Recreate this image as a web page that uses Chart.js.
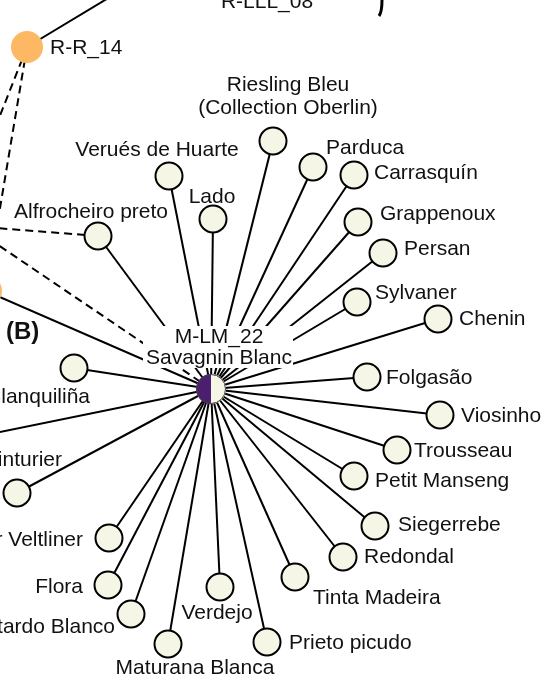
<!DOCTYPE html>
<html>
<head>
<meta charset="utf-8">
<style>
  html, body { margin: 0; padding: 0; background: #fff; }
  #wrap { width: 552px; height: 677px; position: relative; }
</style>
</head>
<body>
<div id="wrap"><canvas id="myChart"></canvas></div>
<script src="https://cdn.jsdelivr.net/npm/chart.js@4/dist/chart.umd.min.js"></script>
<script>
// DATA
const nodeNames = [
    "Savagnin Blanc", "R-R_14", "parent-left",
    "Riesling Bleu\n(Collection Oberlin)", "Verués de Huarte", "Lado", "Alfrocheiro preto",
    "Parduca", "Carrasquín", "Grappenoux", "Persan", "Sylvaner", "Chenin",
    "Folgasão", "Viosinho", "Trousseau", "Petit Manseng", "Siegerrebe", "Redondal",
    "Tinta Madeira", "Prieto picudo", "Maturana Blanca", "Verdejo", "Bastardo Blanco",
    "Flora", "Grüner Veltliner", "Teinturier", "Blanquiliña",
    "off-1", "off-2", "off-3", "off-4", "off-5",
];
const nodeCodes = ["M-LM_22", "R-R_14", ""];
const nodeType = [
    "hub", "parent", "parent",
    "cultivar", "cultivar", "cultivar", "cultivar", "cultivar", "cultivar", "cultivar",
    "cultivar", "cultivar", "cultivar", "cultivar", "cultivar", "cultivar", "cultivar",
    "cultivar", "cultivar", "cultivar", "cultivar", "cultivar", "cultivar", "cultivar",
    "cultivar", "cultivar", "cultivar", "cultivar",
    "off", "off", "off", "off", "off",
];
// layout coordinates of the network (frame units)
const nodeX = [211, 27, -14, 273, 169, 213, 98, 313, 354, 358, 383, 357, 438, 367, 440, 397,
    354, 375, 343, 295, 267, 168, 220, 131, 108, 109, 17, 74, 115, -10, -4, -30, -30];
const nodeY = [389, 47, 291, 141, 176, 219, 236, 167, 175, 222, 253, 302, 319, 377, 415, 450,
    476, 526, 557, 577, 642, 644, 587, 614, 585, 538, 493, 368, -6, 141, 232, 226, 438];

// edges: from, to, dashed
const edgeFrom = [0, 0, 0, 0, 0, 0, 0, 0, 0, 0, 0, 0, 0, 0, 0, 0, 0, 0, 0, 0, 0, 0, 0, 0, 0, 0,
    1, 1, 1, 6, 0, 0];
const edgeTo = [2, 3, 4, 5, 6, 7, 8, 9, 10, 11, 12, 13, 14, 15, 16, 17, 18, 19, 20, 21, 22, 23,
    24, 25, 26, 27, 28, 29, 30, 31, 31, 32];
const edgeDashed = [0, 0, 0, 0, 0, 0, 0, 0, 0, 0, 0, 0, 0, 0, 0, 0, 0, 0, 0, 0, 0, 0, 0, 0, 0, 0,
    0, 1, 1, 1, 1, 0];

// LABEL LAYOUT: [x, y, align]
const labelAt = [
    [219, 337, "center"], [50, 48, "left"], null,
    [288, 85, "center"], [157, 150, "center"], [212, 197, "center"], [91, 212, "center"],
    [326, 148, "left"], [374, 173, "left"], [380, 214, "left"], [404, 249, "left"],
    [375, 293, "left"], [459, 319, "left"], [386, 378, "left"], [461, 416, "left"],
    [414, 451, "left"], [375, 481, "left"], [398, 525, "left"], [364, 557, "left"],
    [313, 598, "left"], [289, 643, "left"], [195, 668, "center"], [217, 613, "center"],
    [115, 627, "right"], [83, 587, "right"], [83, 540, "right"], [62, 460, "right"],
    [90, 397, "right"],
];

const FONT = '"Liberation Sans", Arial, Helvetica, sans-serif';
const CREAM = "#f6f6e6";
const ORANGE = "#fdb863";
const PURPLE = "#4b1f6e";

// half purple / half cream marker for the hub
function hubMarker(r) {
    const c = document.createElement("canvas");
    c.width = c.height = 2 * r + 2;
    const g = c.getContext("2d");
    const m = r + 1;
    g.beginPath(); g.moveTo(m, m); g.arc(m, m, r, Math.PI / 2, Math.PI * 1.5); g.closePath();
    g.fillStyle = PURPLE; g.fill();
    g.beginPath(); g.moveTo(m, m); g.arc(m, m, r, -Math.PI / 2, Math.PI / 2); g.closePath();
    g.fillStyle = CREAM; g.fill();
    g.beginPath(); g.arc(m, m, r - 0.5, 0, Math.PI * 2);
    g.strokeStyle = "#444"; g.lineWidth = 1; g.stroke();
    return c;
}

const pts = (type) => nodeNames
    .map((n, i) => ({ x: nodeX[i], y: nodeY[i], t: nodeType[i] }))
    .filter(p => p.t === type);

const edgeSets = edgeFrom.map((f, k) => ({
    label: "edge",
    data: [{ x: nodeX[f], y: nodeY[f] }, { x: nodeX[edgeTo[k]], y: nodeY[edgeTo[k]] }],
    showLine: true,
    borderColor: "#000",
    borderWidth: 2,
    borderDash: edgeDashed[k] ? [8, 5] : [],
    pointRadius: 0,
    order: 10,
}));

const data = {
    datasets: [
        {
            label: "nodes-hub",
            data: pts("hub"),
            pointStyle: hubMarker(15),
            pointRadius: 15,
            order: 0,
        },
        {
            label: "nodes-cultivar",
            data: pts("cultivar"),
            pointRadius: 13.5,
            backgroundColor: CREAM,
            borderColor: "#000",
            borderWidth: 2,
            order: 0,
        },
        {
            label: "nodes-parent",
            data: pts("parent"),
            pointRadius: 16,
            backgroundColor: ORANGE,
            borderWidth: 0,
            order: 0,
        },
        ...edgeSets,
    ],
};

// white box behind hub label, drawn between edges and nodes
let boxDone = false;
const labelPlugin = {
    id: "labels",
    beforeDatasetsDraw() { boxDone = false; },
    beforeDatasetDraw(chart, args) {
        if (boxDone || !String(chart.data.datasets[args.index].label).startsWith("nodes")) return;
        boxDone = true;
        const sx = chart.scales.x, sy = chart.scales.y, ctx = chart.ctx;
        const x0 = sx.getPixelForValue(143), x1 = sx.getPixelForValue(293);
        const y0 = sy.getPixelForValue(326), y1 = sy.getPixelForValue(368);
        ctx.save();
        ctx.fillStyle = "#fff";
        ctx.fillRect(x0, y0, x1 - x0, y1 - y0);
        ctx.restore();
    },
    afterDatasetsDraw(chart) {
        const sx = chart.scales.x, sy = chart.scales.y, ctx = chart.ctx;
        ctx.save();
        ctx.fillStyle = "#111";
        ctx.font = "21px " + FONT;
        ctx.textBaseline = "middle";
        labelAt.forEach((l, i) => {
            if (!l) return;
            let txt = nodeNames[i];
            if (nodeType[i] === "hub") txt = nodeCodes[i] + "\n" + nodeNames[i];
            if (nodeType[i] === "parent") txt = nodeCodes[i];
            ctx.textAlign = l[2];
            const lh = nodeType[i] === "hub" ? 21 : 23;
            txt.split("\n").forEach((line, j) => {
                ctx.fillText(line, sx.getPixelForValue(l[0]), sy.getPixelForValue(l[1] + j * lh));
            });
        });
        // panel tag and cut-off parent label at top
        ctx.textAlign = "left";
        ctx.font = "bold 24px " + FONT;
        ctx.fillText("(B)", sx.getPixelForValue(6), sy.getPixelForValue(332));
        ctx.font = "21px " + FONT;
        ctx.textAlign = "center";
        ctx.textBaseline = "alphabetic";
        ctx.fillText("R-LLL_08", sx.getPixelForValue(267), sy.getPixelForValue(8));
        // tip of a brace at the top edge
        ctx.beginPath();
        ctx.moveTo(sx.getPixelForValue(382), sy.getPixelForValue(0));
        ctx.quadraticCurveTo(sx.getPixelForValue(382), sy.getPixelForValue(12),
            sx.getPixelForValue(379), sy.getPixelForValue(16));
        ctx.lineWidth = 3;
        ctx.strokeStyle = "#000";
        ctx.stroke();
        ctx.restore();
    },
};

// CONFIG
const config = {
    type: "scatter",
    data: data,
    options: {
        responsive: true,
        maintainAspectRatio: false,
        animation: false,
        events: [],
        layout: { padding: 0, autoPadding: false },
        scales: {
            x: { type: "linear", min: 0, max: 552, display: false },
            y: { type: "linear", min: 0, max: 677, reverse: true, display: false },
        },
        plugins: {
            legend: { display: false },
            tooltip: { enabled: false },
        },
    },
    plugins: [labelPlugin],
};

const myChart = new Chart(document.getElementById("myChart"), config);
</script>
</body>
</html>
